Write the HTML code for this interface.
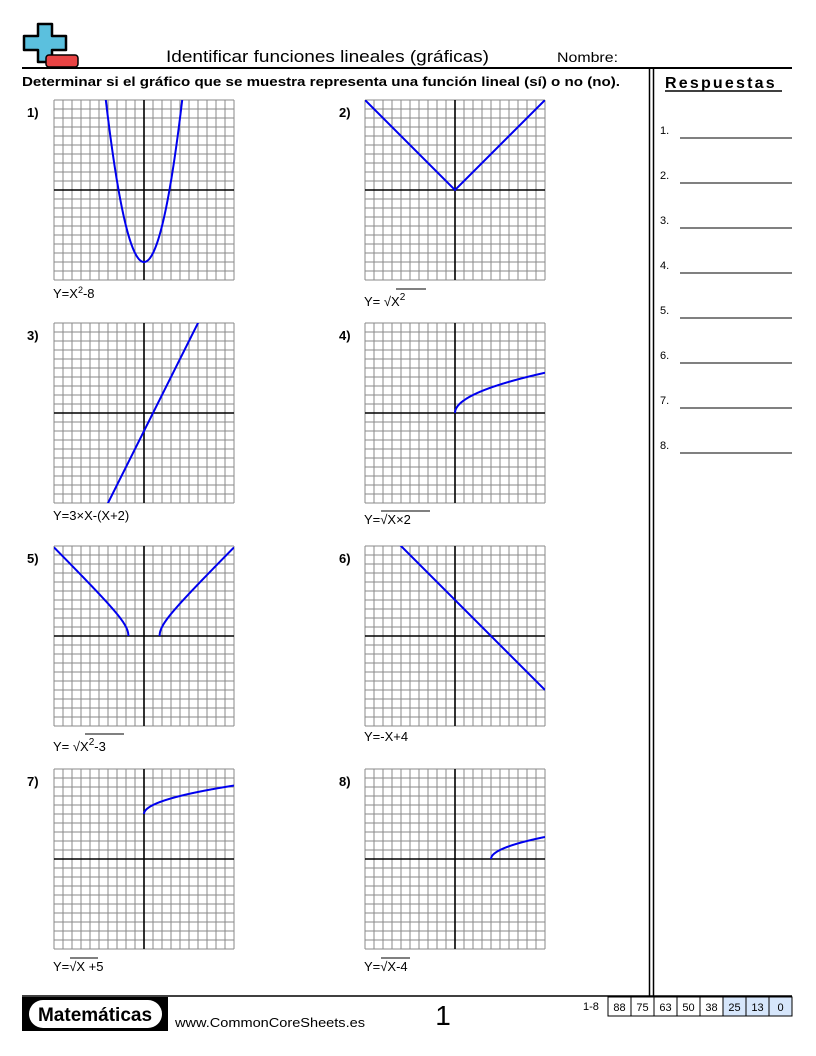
<!DOCTYPE html>
<html><head><meta charset="utf-8"><style>
body{margin:0;background:#fff;}
svg{display:block;font-family:"Liberation Sans",sans-serif;}
</style></head><body>
<svg id="s" width="816" height="1056" viewBox="0 0 816 1056" xmlns="http://www.w3.org/2000/svg">
<rect width="816" height="1056" fill="#fff"/>
<!-- logo -->
<path d="M38 24 H52 V36 H66 V50 H52 V62 H38 V50 H24 V36 H38 Z" fill="#5bc0de" stroke="#000" stroke-width="2.5" stroke-linejoin="round"/>
<rect x="46" y="55" width="32" height="12" rx="3" fill="#e84444" stroke="#000" stroke-width="1.5"/>
<text x="166" y="62" font-size="17" textLength="323" lengthAdjust="spacingAndGlyphs">Identificar funciones lineales (gráficas)</text>
<text x="557" y="62" font-size="14" textLength="61" lengthAdjust="spacingAndGlyphs">Nombre:</text>
<line x1="22" y1="68" x2="792" y2="68" stroke="#000" stroke-width="2"/>
<text x="22" y="86" font-size="13.3" font-weight="bold" textLength="598" lengthAdjust="spacingAndGlyphs">Determinar si el gráfico que se muestra representa una función lineal (sí) o no (no).</text>
<line x1="649.5" y1="68" x2="649.5" y2="996" stroke="#000" stroke-width="1.5"/>
<line x1="653.5" y1="68" x2="653.5" y2="996" stroke="#000" stroke-width="1.5"/>
<text x="665" y="88" font-size="16" font-weight="bold" letter-spacing="2.2">Respuestas</text>
<line x1="665" y1="91" x2="782" y2="91" stroke="#000" stroke-width="1.5"/>
<g font-size="11">
<text x="660" y="134">1.</text><text x="660" y="179">2.</text><text x="660" y="224">3.</text><text x="660" y="269">4.</text>
<text x="660" y="314">5.</text><text x="660" y="359">6.</text><text x="660" y="404">7.</text><text x="660" y="449">8.</text>
</g>
<g stroke="#000" stroke-width="1">
<line x1="680" y1="138" x2="792" y2="138"/><line x1="680" y1="183" x2="792" y2="183"/><line x1="680" y1="228" x2="792" y2="228"/><line x1="680" y1="273" x2="792" y2="273"/>
<line x1="680" y1="318" x2="792" y2="318"/><line x1="680" y1="363" x2="792" y2="363"/><line x1="680" y1="408" x2="792" y2="408"/><line x1="680" y1="453" x2="792" y2="453"/>
</g>
<g font-size="13" font-weight="bold">
<text x="27" y="117">1)</text><text x="339" y="117">2)</text>
<text x="27" y="340">3)</text><text x="339" y="340">4)</text>
<text x="27" y="563">5)</text><text x="339" y="563">6)</text>
<text x="27" y="786">7)</text><text x="339" y="786">8)</text>
</g>
<g id="graphs"></g>
<g font-size="13">
<text x="53" y="298">Y=X<tspan dy="-5" font-size="9">2</tspan><tspan dy="5">-8</tspan></text>
<text x="364" y="306">Y=  √X<tspan dy="-6" font-size="10">2</tspan></text>
<line x1="396" y1="289" x2="426" y2="289" stroke="#000" stroke-width="1"/>
<text x="53" y="520">Y=3×X-(X+2)</text>
<text x="364" y="524">Y=√X×2</text>
<line x1="381" y1="511" x2="430" y2="511" stroke="#000" stroke-width="1"/>
<text x="53" y="751">Y=  √X<tspan dy="-6" font-size="10">2</tspan><tspan dy="6">-3</tspan></text>
<line x1="85" y1="734" x2="124" y2="734" stroke="#000" stroke-width="1"/>
<text x="364" y="741">Y=-X+4</text>
<text x="53" y="971">Y=√X  +5</text>
<line x1="70" y1="958" x2="98" y2="958" stroke="#000" stroke-width="1"/>
<text x="364" y="971">Y=√X-4</text>
<line x1="381" y1="958" x2="410" y2="958" stroke="#000" stroke-width="1"/>
</g>
<!-- footer -->
<line x1="22" y1="996" x2="792" y2="996" stroke="#000" stroke-width="1.5"/>
<rect x="22" y="997" width="146" height="34" fill="#000"/>
<rect x="29" y="1000" width="133" height="28" rx="14" fill="#fff"/>
<text x="95" y="1021" font-size="19" font-weight="bold" text-anchor="middle">Matemáticas</text>
<text x="175" y="1027" font-size="13" textLength="190" lengthAdjust="spacingAndGlyphs">www.CommonCoreSheets.es</text>
<text x="443" y="1025" font-size="28" text-anchor="middle">1</text>
<text x="583" y="1010" font-size="11">1-8</text>
<g id="score" font-size="11"></g>
</svg>
<script>
var NS="http://www.w3.org/2000/svg";
function el(t,a,p){var e=document.createElementNS(NS,t);for(var k in a)e.setAttribute(k,a[k]);(p||document.getElementById('graphs')).appendChild(e);return e;}
var fns=[
 [54,100,function(x){return x*x-8},-10,10],
 [365,100,function(x){return Math.abs(x)},-10,10],
 [54,323,function(x){return 2*x-2},-10,10],
 [365,323,function(x){return Math.sqrt(2*x)},0,10],
 [54,546,null],
 [365,546,function(x){return 4-x},-10,10],
 [54,769,function(x){return Math.sqrt(x)+5},0,10],
 [365,769,function(x){return Math.sqrt(x-4)},4,10]
];
fns.forEach(function(f){
 var X=f[0],Y=f[1],cx=X+90,cy=Y+90,d="";
 for(var i=0;i<=20;i++){d+="M"+(X+i*9)+" "+Y+"V"+(Y+180)+"M"+X+" "+(Y+i*9)+"H"+(X+180);}
 el('path',{d:d,stroke:'#8a8a8a',"stroke-width":1,fill:'none'});
 el('path',{d:"M"+cx+" "+Y+"V"+(Y+180)+"M"+X+" "+cy+"H"+(X+180),stroke:'#000',"stroke-width":1.6,fill:'none'});
 var cp=el('clipPath',{id:'c'+X+Y});el('rect',{x:X,y:Y,width:180,height:180},cp);
 var segs=[];
 if(f[2]){var p=[];for(var x=f[3];x<=f[4]+1e-9;x+=0.02){p.push([x,f[2](x)]);}segs.push(p);}
 else{var a=[],b=[];var r=Math.sqrt(3);
  for(var x=-10;x<=-r;x+=0.02)a.push([x,Math.sqrt(Math.max(0,x*x-3))]);a.push([-r,0]);
  b.push([r,0]);for(var x=r;x<=10.001;x+=0.02)b.push([x,Math.sqrt(Math.max(0,x*x-3))]);segs.push(a,b);}
 segs.forEach(function(p){var s="";p.forEach(function(q,i){s+=(i?"L":"M")+(cx+q[0]*9).toFixed(2)+" "+(cy-q[1]*9).toFixed(2);});
  el('path',{d:s,stroke:'#0000ee',"stroke-width":2,fill:'none',"clip-path":"url(#c"+X+Y+")"});});
});
var sc=document.getElementById('score'),vals=["88","75","63","50","38","25","13","0"];
vals.forEach(function(v,i){var x=608+i*23;
 el('rect',{x:x,y:997,width:23,height:19,fill:i>=5?'#d6e6fb':'#fff',stroke:'#000',"stroke-width":1},sc);
 var t=el('text',{x:x+11.5,y:1011,"text-anchor":"middle"},sc);t.textContent=v;});
</script>
</body></html>
